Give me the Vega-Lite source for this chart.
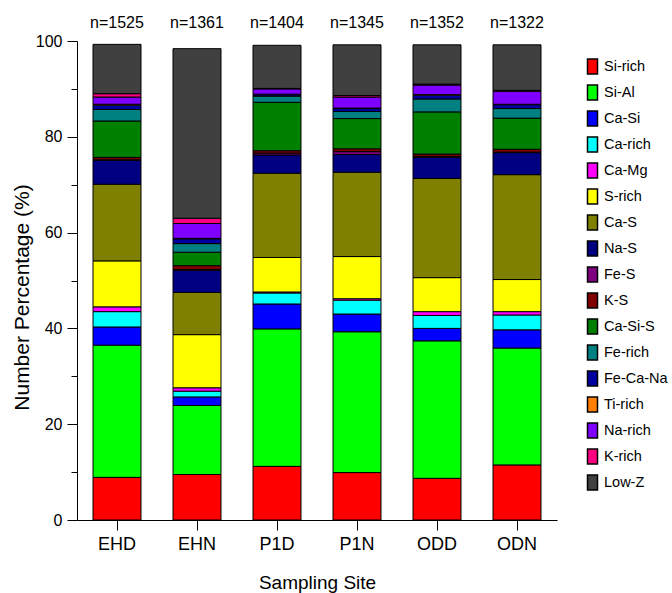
{
  "$schema": "https://vega.github.io/schema/vega-lite/v6.json",
  "autosize": {"type": "none"},
  "padding": {"left": 77, "top": 41, "right": 115, "bottom": 73},
  "width": 480,
  "height": 479,
  "config": {
    "view": {"stroke": null},
    "font": "Liberation Sans",
    "axis": {"domainColor": "black", "tickColor": "black", "labelColor": "black", "titleColor": "black", "grid": false, "titleFontWeight": "normal", "domainWidth": 1, "tickWidth": 1}
  },
  "datasets": {
    "counts": [
      {"site": "EHD", "n": "n=1525"},
      {"site": "EHN", "n": "n=1361"},
      {"site": "P1D", "n": "n=1404"},
      {"site": "P1N", "n": "n=1345"},
      {"site": "ODD", "n": "n=1352"},
      {"site": "ODN", "n": "n=1322"}
    ],
    "classes": [
      {"class": "Si-rich", "rank": 1},
      {"class": "Si-Al", "rank": 2},
      {"class": "Ca-Si", "rank": 3},
      {"class": "Ca-rich", "rank": 4},
      {"class": "Ca-Mg", "rank": 5},
      {"class": "S-rich", "rank": 6},
      {"class": "Ca-S", "rank": 7},
      {"class": "Na-S", "rank": 8},
      {"class": "Fe-S", "rank": 9},
      {"class": "K-S", "rank": 10},
      {"class": "Ca-Si-S", "rank": 11},
      {"class": "Fe-rich", "rank": 12},
      {"class": "Fe-Ca-Na", "rank": 13},
      {"class": "Ti-rich", "rank": 14},
      {"class": "Na-rich", "rank": 15},
      {"class": "K-rich", "rank": 16},
      {"class": "Low-Z", "rank": 17}
    ],
    "pct": [
      {"site": "EHD", "class": "Si-rich", "pct": 8.9},
      {"site": "EHD", "class": "Si-Al", "pct": 27.6},
      {"site": "EHD", "class": "Ca-Si", "pct": 3.8},
      {"site": "EHD", "class": "Ca-rich", "pct": 3.2},
      {"site": "EHD", "class": "Ca-Mg", "pct": 1.0},
      {"site": "EHD", "class": "S-rich", "pct": 9.6},
      {"site": "EHD", "class": "Ca-S", "pct": 16.0},
      {"site": "EHD", "class": "Na-S", "pct": 5.0},
      {"site": "EHD", "class": "Fe-S", "pct": 0.1},
      {"site": "EHD", "class": "K-S", "pct": 0.5},
      {"site": "EHD", "class": "Ca-Si-S", "pct": 7.6},
      {"site": "EHD", "class": "Fe-rich", "pct": 2.4},
      {"site": "EHD", "class": "Fe-Ca-Na", "pct": 0.9},
      {"site": "EHD", "class": "Ti-rich", "pct": 0.2},
      {"site": "EHD", "class": "Na-rich", "pct": 1.5},
      {"site": "EHD", "class": "K-rich", "pct": 0.7},
      {"site": "EHD", "class": "Low-Z", "pct": 10.3},
      {"site": "EHN", "class": "Si-rich", "pct": 9.5},
      {"site": "EHN", "class": "Si-Al", "pct": 14.4},
      {"site": "EHN", "class": "Ca-Si", "pct": 1.8},
      {"site": "EHN", "class": "Ca-rich", "pct": 1.2},
      {"site": "EHN", "class": "Ca-Mg", "pct": 0.7},
      {"site": "EHN", "class": "S-rich", "pct": 11.1},
      {"site": "EHN", "class": "Ca-S", "pct": 8.8},
      {"site": "EHN", "class": "Na-S", "pct": 4.6},
      {"site": "EHN", "class": "Fe-S", "pct": 0.2},
      {"site": "EHN", "class": "K-S", "pct": 0.8},
      {"site": "EHN", "class": "Ca-Si-S", "pct": 2.8},
      {"site": "EHN", "class": "Fe-rich", "pct": 1.8},
      {"site": "EHN", "class": "Fe-Ca-Na", "pct": 1.0},
      {"site": "EHN", "class": "Ti-rich", "pct": 0.1},
      {"site": "EHN", "class": "Na-rich", "pct": 3.1},
      {"site": "EHN", "class": "K-rich", "pct": 1.1},
      {"site": "EHN", "class": "Low-Z", "pct": 35.4},
      {"site": "P1D", "class": "Si-rich", "pct": 11.2},
      {"site": "P1D", "class": "Si-Al", "pct": 28.7},
      {"site": "P1D", "class": "Ca-Si", "pct": 5.2},
      {"site": "P1D", "class": "Ca-rich", "pct": 2.3},
      {"site": "P1D", "class": "Ca-Mg", "pct": 0.2},
      {"site": "P1D", "class": "S-rich", "pct": 7.2},
      {"site": "P1D", "class": "Ca-S", "pct": 17.6},
      {"site": "P1D", "class": "Na-S", "pct": 3.8},
      {"site": "P1D", "class": "Fe-S", "pct": 0.4},
      {"site": "P1D", "class": "K-S", "pct": 0.5},
      {"site": "P1D", "class": "Ca-Si-S", "pct": 10.1},
      {"site": "P1D", "class": "Fe-rich", "pct": 1.3},
      {"site": "P1D", "class": "Fe-Ca-Na", "pct": 0.3},
      {"site": "P1D", "class": "Ti-rich", "pct": 0.1},
      {"site": "P1D", "class": "Na-rich", "pct": 1.1},
      {"site": "P1D", "class": "K-rich", "pct": 0.1},
      {"site": "P1D", "class": "Low-Z", "pct": 9.0},
      {"site": "P1N", "class": "Si-rich", "pct": 9.9},
      {"site": "P1N", "class": "Si-Al", "pct": 29.4},
      {"site": "P1N", "class": "Ca-Si", "pct": 3.7},
      {"site": "P1N", "class": "Ca-rich", "pct": 2.9},
      {"site": "P1N", "class": "Ca-Mg", "pct": 0.3},
      {"site": "P1N", "class": "S-rich", "pct": 8.8},
      {"site": "P1N", "class": "Ca-S", "pct": 17.6},
      {"site": "P1N", "class": "Na-S", "pct": 3.7},
      {"site": "P1N", "class": "Fe-S", "pct": 0.6},
      {"site": "P1N", "class": "K-S", "pct": 0.6},
      {"site": "P1N", "class": "Ca-Si-S", "pct": 6.3},
      {"site": "P1N", "class": "Fe-rich", "pct": 1.5},
      {"site": "P1N", "class": "Fe-Ca-Na", "pct": 0.6},
      {"site": "P1N", "class": "Ti-rich", "pct": 0.1},
      {"site": "P1N", "class": "Na-rich", "pct": 2.3},
      {"site": "P1N", "class": "K-rich", "pct": 0.3},
      {"site": "P1N", "class": "Low-Z", "pct": 10.6},
      {"site": "ODD", "class": "Si-rich", "pct": 8.7},
      {"site": "ODD", "class": "Si-Al", "pct": 28.7},
      {"site": "ODD", "class": "Ca-Si", "pct": 2.6},
      {"site": "ODD", "class": "Ca-rich", "pct": 2.7},
      {"site": "ODD", "class": "Ca-Mg", "pct": 0.8},
      {"site": "ODD", "class": "S-rich", "pct": 7.1},
      {"site": "ODD", "class": "Ca-S", "pct": 20.7},
      {"site": "ODD", "class": "Na-S", "pct": 4.4},
      {"site": "ODD", "class": "Fe-S", "pct": 0.2},
      {"site": "ODD", "class": "K-S", "pct": 0.5},
      {"site": "ODD", "class": "Ca-Si-S", "pct": 8.8},
      {"site": "ODD", "class": "Fe-rich", "pct": 2.7},
      {"site": "ODD", "class": "Fe-Ca-Na", "pct": 0.8},
      {"site": "ODD", "class": "Ti-rich", "pct": 0.1},
      {"site": "ODD", "class": "Na-rich", "pct": 2.0},
      {"site": "ODD", "class": "K-rich", "pct": 0.2},
      {"site": "ODD", "class": "Low-Z", "pct": 8.2},
      {"site": "ODN", "class": "Si-rich", "pct": 11.5},
      {"site": "ODN", "class": "Si-Al", "pct": 24.4},
      {"site": "ODN", "class": "Ca-Si", "pct": 3.8},
      {"site": "ODN", "class": "Ca-rich", "pct": 3.1},
      {"site": "ODN", "class": "Ca-Mg", "pct": 0.7},
      {"site": "ODN", "class": "S-rich", "pct": 6.7},
      {"site": "ODN", "class": "Ca-S", "pct": 21.9},
      {"site": "ODN", "class": "Na-S", "pct": 4.6},
      {"site": "ODN", "class": "Fe-S", "pct": 0.1},
      {"site": "ODN", "class": "K-S", "pct": 0.6},
      {"site": "ODN", "class": "Ca-Si-S", "pct": 6.5},
      {"site": "ODN", "class": "Fe-rich", "pct": 2.0},
      {"site": "ODN", "class": "Fe-Ca-Na", "pct": 0.8},
      {"site": "ODN", "class": "Ti-rich", "pct": 0.1},
      {"site": "ODN", "class": "Na-rich", "pct": 2.7},
      {"site": "ODN", "class": "K-rich", "pct": 0.2},
      {"site": "ODN", "class": "Low-Z", "pct": 9.5}
    ]
  },
  "layer": [
    {
      "data": {"name": "pct"},
      "transform": [
        {"lookup": "class", "from": {"data": {"name": "classes"}, "key": "class", "fields": ["rank"]}}
      ],
      "mark": {"type": "bar", "stroke": "black", "strokeWidth": 1, "width": 48},
      "encoding": {
        "x": {
          "field": "site", "type": "nominal",
          "sort": ["EHD", "EHN", "P1D", "P1N", "ODD", "ODN"],
          "scale": {"paddingInner": 0.4, "paddingOuter": 0.2},
          "axis": {"title": "Sampling Site", "labelAngle": 0, "labelFontSize": 18, "titleFontSize": 19, "tickSize": 10, "labelPadding": 5, "titleY": 62, "titleBaseline": "middle"}
        },
        "y": {
          "field": "pct", "type": "quantitative", "stack": "zero",
          "scale": {"domain": [0, 100], "nice": false},
          "axis": {
            "title": "Number Percentage (%)",
            "values": [0, 10, 20, 30, 40, 50, 60, 70, 80, 90, 100],
            "labelExpr": "datum.value % 20 === 0 ? datum.label : ''",
            "tickSize": {"condition": {"test": "datum.value % 20 === 0", "value": 10}, "value": 6},
            "labelFontSize": 16, "labelPadding": 5, "titleFontSize": 21,
            "titleX": -55, "titleY": 256, "titleBaseline": "middle", "titleAlign": "center", "titleAngle": -90
          }
        },
        "order": {"field": "rank", "type": "quantitative", "sort": "ascending"},
        "color": {
          "field": "class", "type": "nominal",
          "scale": {
            "domain": ["Si-rich", "Si-Al", "Ca-Si", "Ca-rich", "Ca-Mg", "S-rich", "Ca-S", "Na-S", "Fe-S", "K-S", "Ca-Si-S", "Fe-rich", "Fe-Ca-Na", "Ti-rich", "Na-rich", "K-rich", "Low-Z"],
            "range": ["#ff0000", "#00ff00", "#0000ff", "#00ffff", "#ff00ff", "#ffff00", "#808000", "#000080", "#800080", "#800000", "#008000", "#008080", "#0000a0", "#ff8000", "#8000ff", "#ff0080", "#404040"]
          },
          "legend": {
            "title": null, "orient": "none", "legendX": 507, "legendY": 17,
            "symbolType": "M-0.667,-1H0.667V1H-0.667Z", "symbolSize": 225,
            "symbolStrokeColor": "black", "symbolStrokeWidth": 1.5,
            "labelFontSize": 14.5, "labelColor": "black", "rowPadding": 5, "labelOffset": 3, "padding": 0
          }
        }
      }
    },
    {
      "data": {"name": "counts"},
      "mark": {"type": "text", "fontSize": 16, "baseline": "alphabetic", "dy": -13, "color": "black"},
      "encoding": {
        "x": {"field": "site", "type": "nominal", "sort": ["EHD", "EHN", "P1D", "P1N", "ODD", "ODN"]},
        "y": {"datum": 100},
        "text": {"field": "n"}
      }
    }
  ]
}
